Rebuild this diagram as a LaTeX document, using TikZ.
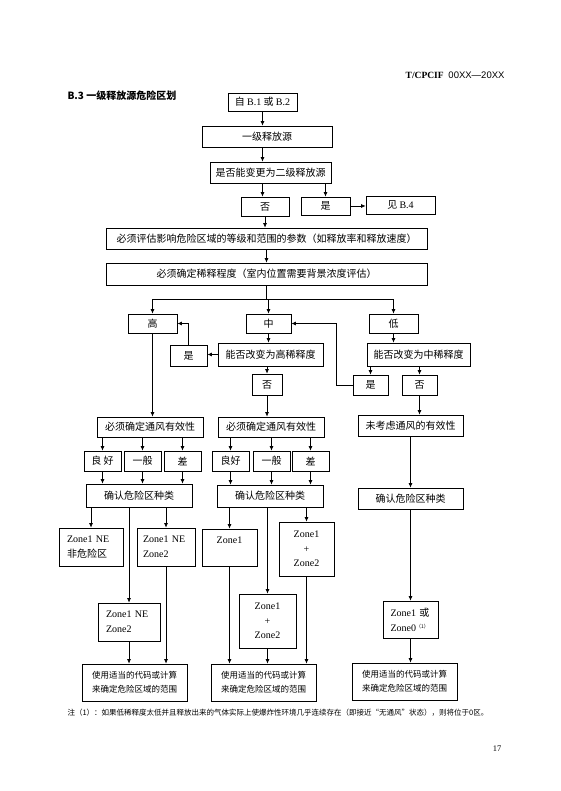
\documentclass[tikz,border=0pt]{standalone}
\usepackage{fontspec}
\setmainfont{Liberation Serif}
\setsansfont{Liberation Sans}
\newfontfamily\cjk{Noto Sans CJK SC}
\usetikzlibrary{arrows.meta}

\begin{document}
\begin{tikzpicture}[x=1pt,y=-1pt,
        box/.style={draw, line width=0.7pt, inner sep=0pt, align=center,
                    font=\cjk\fontsize{10}{15}\selectfont},
        zbox/.style={box, align=left},
        usebox/.style={box, minimum width=105, minimum height=37,
                    font=\cjk\fontsize{8.5}{14}\selectfont},
        arr/.style={line width=0.7pt, -{Latex[length=4.5pt,width=4pt]}},
        ln/.style={line width=0.7pt}]
    \useasboundingbox (0,0) rectangle (560,791);

    % page header, title, note, page number
    \node[anchor=east, font=\fontsize{9.5}{11}\selectfont] (hdr) at (508,75)
        {\bfseries T/CPCIF\ \ \mdseries\sffamily 00XX—20XX};
    \node[anchor=west, font=\cjk\bfseries\fontsize{10}{12}\selectfont] (title) at (64,96)
        {B.3\ 一级释放源危险区划};
    \node[anchor=west, font=\cjk\fontsize{7.5}{9}\selectfont] (note) at (64,713)
        {注（1）：如果低稀释度太低并且释放出来的气体实际上使爆炸性环境几乎连续存在（即接近“无通风”状态），则将位于0区。};
    \node[font=\fontsize{8.5}{10}\selectfont] (pg) at (497,749) {17};

    % upper part
    \node[box, minimum width=69, minimum height=18] (src) at (262.5,102) {自 {\rmfamily B.1} 或 {\rmfamily B.2}};
    \node[box, minimum width=130, minimum height=21] (first) at (267,136.5) {一级释放源};
    \node[box, minimum width=121, minimum height=21] (q2) at (270.5,172.5) {是否能变更为二级释放源};
    \node[box, minimum width=48, minimum height=19] (no1) at (265,206.5) {否};
    \node[box, minimum width=49, minimum height=18] (yes1) at (325.5,206) {是};
    \node[box, minimum width=69, minimum height=18] (seeB4) at (400.5,205) {见 {\rmfamily B.4}};
    \node[box, minimum width=321, minimum height=21] (eval) at (266.5,238.5)
        {必须评估影响危险区域的等级和范围的参数（如释放率和释放速度）};
    \node[box, minimum width=321, minimum height=22] (dil) at (266.5,274)
        {必须确定稀释程度（室内位置需要背景浓度评估）};

    % dilution degree
    \node[box, minimum width=49, minimum height=19] (high) at (152.5,323.5) {高};
    \node[box, minimum width=45, minimum height=19] (mid) at (268.5,323.5) {中};
    \node[box, minimum width=49, minimum height=19] (low) at (393.5,323.5) {低};
    \node[box, minimum width=37, minimum height=21] (yesH) at (188.5,355.5) {是};
    \node[box, minimum width=105, minimum height=23] (askH) at (270.5,354.5) {能否改变为高稀释度};
    \node[box, minimum width=30, minimum height=21] (noH) at (267,384.5) {否};
    \node[box, minimum width=103, minimum height=23] (askL) at (418.5,354.5) {能否改变为中稀释度};
    \node[box, minimum width=35, minimum height=20] (yesL) at (370.5,385) {是};
    \node[box, minimum width=35, minimum height=20] (noL) at (419.5,385) {否};

    % left column
    \node[box, minimum width=106, minimum height=20] (ventL) at (150,427) {必须确定通风有效性};
    \node[box, minimum width=37, minimum height=20] (goodL) at (102.5,461) {良\ 好};
    \node[box, minimum width=37, minimum height=20] (fairL) at (142.5,461) {一般};
    \node[box, minimum width=37, minimum height=20] (poorL) at (182.5,461) {差};
    \node[box, minimum width=106, minimum height=23] (kindL) at (139,495.5) {确认危险区种类};
    \node[zbox, minimum width=64, minimum height=38, text width=48] (zA) at (91,547)
        {{\rmfamily Zone1 NE}\\非危险区};
    \node[zbox, minimum width=58, minimum height=38, text width=46] (zB) at (166,547)
        {\rmfamily Zone1 NE\\Zone2};
    \node[zbox, minimum width=62, minimum height=38, text width=46] (zC) at (129,622)
        {\rmfamily Zone1 NE\\Zone2};
    \node[usebox] (useL) at (134.5,682.5) {使用适当的代码或计算\\来确定危险区域的范围};

    % middle column
    \node[box, minimum width=106, minimum height=20] (ventM) at (271,427) {必须确定通风有效性};
    \node[box, minimum width=37, minimum height=20] (goodM) at (230.5,461) {良好};
    \node[box, minimum width=37, minimum height=20] (fairM) at (271.5,461) {一般};
    \node[box, minimum width=37, minimum height=20] (poorM) at (310.5,461) {差};
    \node[box, minimum width=106, minimum height=22] (kindM) at (270,496) {确认危险区种类};
    \node[box, minimum width=55, minimum height=37] (zD) at (229.5,547.5) {\rmfamily Zone1\\\mbox{}};
    \node[box, minimum width=55, minimum height=54, font=\rmfamily\fontsize{10}{14.5}\selectfont] (zE) at (306.5,549)
        {Zone1\\+\\Zone2};
    \node[box, minimum width=57, minimum height=54, font=\rmfamily\fontsize{10}{14.5}\selectfont] (zF) at (267.5,621)
        {Zone1\\+\\Zone2};
    \node[usebox] (useM) at (263.5,682.5) {使用适当的代码或计算\\来确定危险区域的范围};

    % right column
    \node[box, minimum width=105, minimum height=21] (ventR) at (410.5,425.5) {未考虑通风的有效性};
    \node[box, minimum width=105, minimum height=21] (kindR) at (410.5,498.5) {确认危险区种类};
    \node[zbox, minimum width=55, minimum height=37, text width=40] (zG) at (410.5,619.5)
        {{\rmfamily Zone1} 或\\{\rmfamily Zone0}\raisebox{3pt}{\fontsize{5}{5}\selectfont （1）}};
    \node[usebox] (useR) at (404.5,681.5) {使用适当的代码或计算\\来确定危险区域的范围};

    % connectors, upper part
    \draw[arr] (src.south) -- (src.south |- first.north);
    \draw[arr] (first.south -| src) -- (q2.north -| src);
    \draw[arr] (q2.south -| src) -- (no1.north -| src);
    \draw[arr] (yes1.north |- q2.south) -- (yes1.north);
    \draw[arr] (yes1.east) -- (yes1.east -| seeB4.west);
    \draw[arr] (no1.south) -- (no1.south |- eval.north);
    \draw[arr] (eval) -- (dil);
    \coordinate (br) at (266.5,299);
    \draw[ln] (dil.south) -- (br);
    \draw[ln] (br -| high) -- (br -| low);
    \draw[arr] (br -| high) -- (high.north);
    \draw[arr] (br -| mid) -- (mid.north);
    \draw[arr] (br -| low) -- (low.north);

    \draw[arr] (mid.south) -- (mid.south |- askH.north);
    \draw[arr] (askH.west) -- (askH.west -| yesH.east);
    \draw[arr] (yesH.north) |- (high.east);
    \draw[arr] (noH.north |- askH.south) -- (noH.north);
    \draw[arr] (low.south) -- (low.south |- askL.north);
    \draw[arr] (yesL.north |- askL.south) -- (yesL.north);
    \draw[arr] (noL.north |- askL.south) -- (noL.north);
    \draw[arr] (yesL.west) -- ++(-16,0) |- (mid.east);
    \draw[arr] (high.south) -- (high.south |- ventL.north);
    \draw[arr] (noH.south) -- (noH.south |- ventM.north);
    \draw[arr] (noL.south) -- (noL.south |- ventR.north);

    % connectors, left column
    \draw[arr] (goodL.north |- ventL.south) -- (goodL.north);
    \draw[arr] (fairL.north |- ventL.south) -- (fairL.north);
    \draw[arr] (poorL.north |- ventL.south) -- (poorL.north);
    \draw[arr] (goodL.south) -- (goodL.south |- kindL.north);
    \draw[arr] (fairL.south) -- (fairL.south |- kindL.north);
    \draw[arr] (poorL.south) -- (poorL.south |- kindL.north);
    \draw[arr] (zA.north |- kindL.south) -- (zA.north);
    \draw[arr] (zC.north |- kindL.south) -- (zC.north);
    \draw[arr] (zB.north |- kindL.south) -- (zB.north);
    \draw[arr] (zC.south) -- (zC.south |- useL.north);
    \draw[arr] (zB.south) -- (zB.south |- useL.north);

    % connectors, middle column
    \draw[arr] (goodM.north |- ventM.south) -- (goodM.north);
    \draw[arr] (fairM.north |- ventM.south) -- (fairM.north);
    \draw[arr] (poorM.north |- ventM.south) -- (poorM.north);
    \draw[arr] (goodM.south) -- (goodM.south |- kindM.north);
    \draw[arr] (fairM.south) -- (fairM.south |- kindM.north);
    \draw[arr] (poorM.south) -- (poorM.south |- kindM.north);
    \draw[arr] (zD.north |- kindM.south) -- (zD.north);
    \draw[arr] (zF.north |- kindM.south) -- (zF.north);
    \draw[arr] (zE.north |- kindM.south) -- (zE.north);
    \draw[arr] (zD.south) -- (zD.south |- useM.north);
    \draw[arr] (zF.south) -- (zF.south |- useM.north);
    \draw[arr] (zE.south) -- (zE.south |- useM.north);

    % connectors, right column
    \draw[arr] (ventR) -- (kindR);
    \draw[arr] (kindR) -- (zG);
    \draw[arr] (zG.south) -- (zG.south |- useR.north);
\end{tikzpicture}
\end{document}
